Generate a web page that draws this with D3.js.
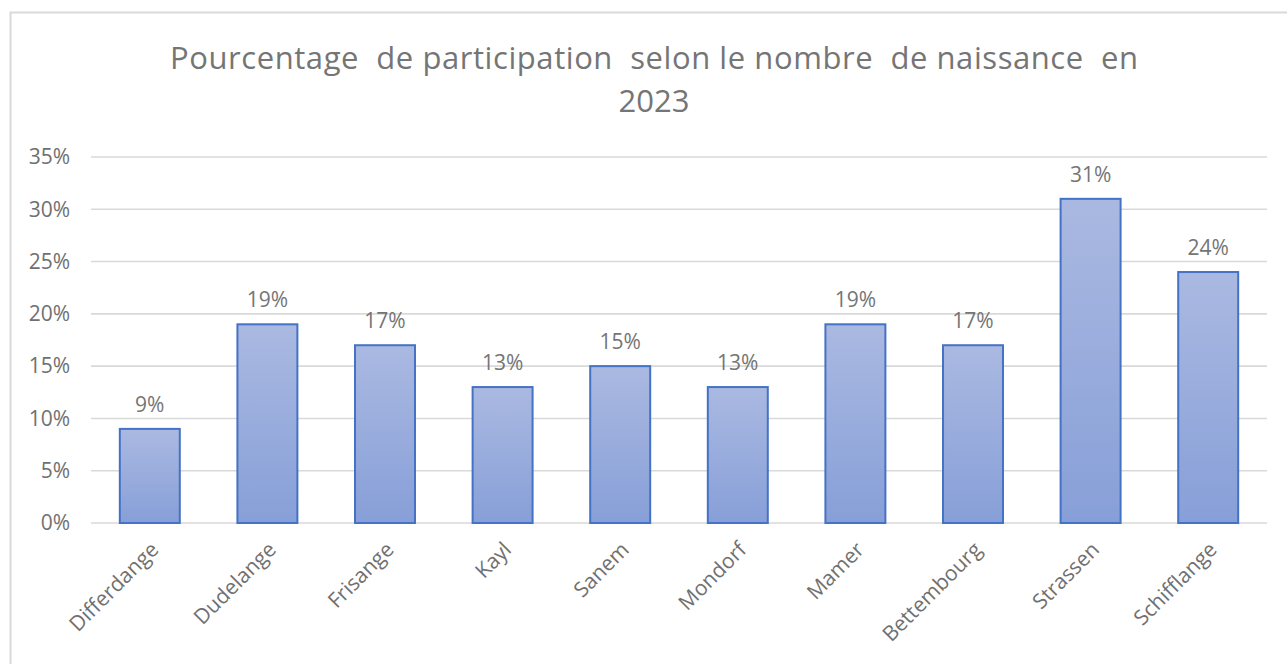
<!DOCTYPE html>
<html>
<head>
<meta charset="utf-8">
<script src="https://cdn.jsdelivr.net/npm/d3@7"></script>
<style>
  body { margin: 0; background: #fff; }
  svg text { font-family: "Open Sans", "Noto Sans", sans-serif; }
</style>
</head>
<body>
<svg width="1287" height="664"></svg>
<script>
const communes = ["Differdange", "Dudelange", "Frisange", "Kayl", "Sanem", "Mondorf", "Mamer", "Bettembourg", "Strassen", "Schifflange"];
const participation = [0.09, 0.19, 0.17, 0.13, 0.15, 0.13, 0.19, 0.17, 0.31, 0.24];
const yTicks = [0, 0.05, 0.10, 0.15, 0.20, 0.25, 0.30, 0.35];
const titleLines = ["Pourcentage  de participation  selon le nombre  de naissance  en", "2023"];

let margin = { top: 157, right: 20, bottom: 141, left: 91 },
  plotRight = 1267,
  plotBottom = 523;

let svg = d3.select("svg");

// chart frame
svg
  .append("rect")
  .attr("x", 10.5)
  .attr("y", 12.5)
  .attr("width", 1300)
  .attr("height", 700)
  .attr("fill", "#fff")
  .attr("stroke", "#d9d9d9")
  .attr("stroke-width", 2);

const defs = svg.append("defs");
const grad = defs
  .append("linearGradient")
  .attr("id", "barFill")
  .attr("x1", 0)
  .attr("y1", 0)
  .attr("x2", 0)
  .attr("y2", 1);
grad.append("stop").attr("offset", "0%").attr("stop-color", "#aab9e1");
grad.append("stop").attr("offset", "100%").attr("stop-color", "#879fd8");

const x = d3
  .scaleBand()
  .domain(communes)
  .range([margin.left, plotRight])
  .paddingInner(0.49)
  .paddingOuter(0.245);

const y = d3.scaleLinear().domain([0, 0.35]).range([plotBottom, margin.top]);

// title, first line stretched to the width it has in the original
svg
  .append("g")
  .selectAll("text")
  .data(titleLines)
  .enter()
  .append("text")
  .attr("x", 654)
  .attr("y", (d, i) => 69 + i * 43)
  .attr("text-anchor", "middle")
  .attr("fill", "#757575")
  .attr("font-size", 31)
  .attr("xml:space", "preserve")
  .style("white-space", "pre")
  .each(function (d, i) {
    if (i == 0) d3.select(this).attr("textLength", 968).attr("lengthAdjust", "spacing");
  })
  .text((d) => d);

// gridlines
svg
  .append("g")
  .selectAll("line")
  .data(yTicks)
  .enter()
  .append("line")
  .attr("x1", margin.left)
  .attr("x2", plotRight)
  .attr("y1", (d) => y(d))
  .attr("y2", (d) => y(d))
  .attr("stroke", "#d9d9d9")
  .attr("stroke-width", 1.6);

// y axis labels
const yAxis = svg
  .append("g")
  .attr("transform", `translate(${margin.left - 21},0)`)
  .call(d3.axisLeft(y).tickValues(yTicks).tickFormat(d3.format(".0%")).tickSize(0).tickPadding(0));
yAxis.select(".domain").remove();
yAxis
  .selectAll("text")
  .attr("fill", "#707070")
  .attr("font-size", 21)
  .attr("font-family", "'Open Sans', sans-serif");

// bars
svg
  .append("g")
  .selectAll("rect")
  .data(participation)
  .enter()
  .append("rect")
  .attr("x", (d, i) => x(communes[i]))
  .attr("y", (d) => y(d))
  .attr("width", x.bandwidth())
  .attr("height", (d) => plotBottom - y(d))
  .attr("fill", "url(#barFill)")
  .attr("stroke", "#4472c4")
  .attr("stroke-width", 2);

// data labels
svg
  .append("g")
  .selectAll("text")
  .data(participation)
  .enter()
  .append("text")
  .attr("x", (d, i) => x(communes[i]) + x.bandwidth() / 2)
  .attr("y", (d) => y(d) - 17)
  .attr("text-anchor", "middle")
  .attr("fill", "#757575")
  .attr("font-size", 21)
  .text((d) => d3.format(".0%")(d));

// x axis labels
const xAxis = svg
  .append("g")
  .attr("transform", `translate(0,${plotBottom})`)
  .call(d3.axisBottom(x).tickSize(0).tickPadding(0));
xAxis.select(".domain").remove();
xAxis
  .selectAll("text")
  .attr("fill", "#707070")
  .attr("font-size", 21)
  .attr("font-family", "'Open Sans', sans-serif")
  .attr("text-anchor", "end")
  .attr("dy", 0)
  .attr("y", 0)
  .attr("transform", "translate(10,28) rotate(-45)");
</script>
</body>
</html>
